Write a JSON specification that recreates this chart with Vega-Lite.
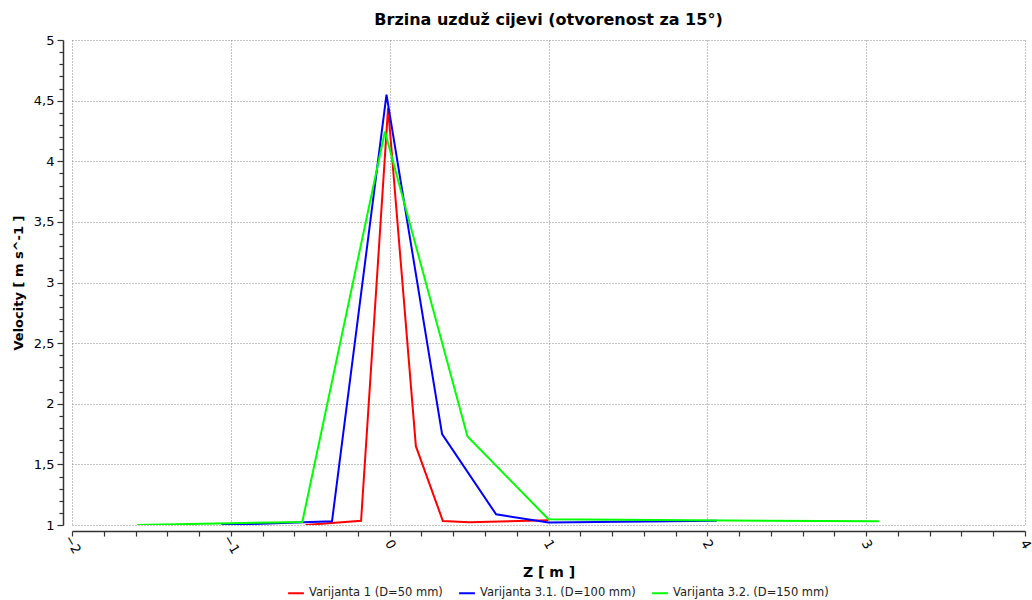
{
  "$schema": "https://vega.github.io/schema/vega-lite/v6.json",
  "width": 953,
  "height": 485,
  "autosize": {"type": "none"},
  "padding": {"left": 72, "top": 40, "right": 7, "bottom": 75},
  "background": "white",
  "title": {
    "text": "Brzina uzduž cijevi (otvorenost za 15°)",
    "font": "DejaVu Sans",
    "fontSize": 16,
    "fontWeight": "bold",
    "color": "black",
    "anchor": "middle",
    "offset": 6
  },
  "data": {
    "values": [
      {"s": "Varijanta 1 (D=50 mm)", "z": -0.53, "v": 1.0},
      {"s": "Varijanta 1 (D=50 mm)", "z": -0.18, "v": 1.035},
      {"s": "Varijanta 1 (D=50 mm)", "z": -0.01, "v": 4.44},
      {"s": "Varijanta 1 (D=50 mm)", "z": 0.165, "v": 1.65},
      {"s": "Varijanta 1 (D=50 mm)", "z": 0.335, "v": 1.033},
      {"s": "Varijanta 1 (D=50 mm)", "z": 0.5, "v": 1.022},
      {"s": "Varijanta 1 (D=50 mm)", "z": 1.0, "v": 1.04},
      {"s": "Varijanta 3.1. (D=100 mm)", "z": -1.06, "v": 1.0},
      {"s": "Varijanta 3.1. (D=100 mm)", "z": -0.363, "v": 1.03},
      {"s": "Varijanta 3.1. (D=100 mm)", "z": -0.02, "v": 4.55},
      {"s": "Varijanta 3.1. (D=100 mm)", "z": 0.33, "v": 1.75},
      {"s": "Varijanta 3.1. (D=100 mm)", "z": 0.67, "v": 1.088},
      {"s": "Varijanta 3.1. (D=100 mm)", "z": 1.0, "v": 1.02},
      {"s": "Varijanta 3.1. (D=100 mm)", "z": 2.06, "v": 1.035},
      {"s": "Varijanta 3.2. (D=150 mm)", "z": -1.59, "v": 1.0},
      {"s": "Varijanta 3.2. (D=150 mm)", "z": -0.55, "v": 1.025},
      {"s": "Varijanta 3.2. (D=150 mm)", "z": -0.03, "v": 4.245},
      {"s": "Varijanta 3.2. (D=150 mm)", "z": 0.49, "v": 1.73},
      {"s": "Varijanta 3.2. (D=150 mm)", "z": 1.0, "v": 1.047},
      {"s": "Varijanta 3.2. (D=150 mm)", "z": 3.08, "v": 1.03}
    ]
  },
  "mark": {"type": "line", "strokeWidth": 2, "clip": true},
  "encoding": {
    "x": {
      "field": "z",
      "type": "quantitative",
      "scale": {"domain": [-2, 4], "nice": false, "zero": false},
      "axis": {
        "title": "Z [ m ]",
        "titleFont": "DejaVu Sans",
        "titleFontSize": 14,
        "titleFontWeight": "bold",
        "titleColor": "black",
        "titlePadding": 10,
        "offset": 6,
        "values": [-2, -1.8, -1.6, -1.4, -1.2, -1, -0.8, -0.6, -0.4, -0.2, 0, 0.2, 0.4, 0.6, 0.8, 1, 1.2, 1.4, 1.6, 1.8, 2, 2.2, 2.4, 2.6, 2.8, 3, 3.2, 3.4, 3.6, 3.8, 4],
        "labelExpr": "abs(datum.value - round(datum.value)) < 0.001 ? format(datum.value, 'd') : ''",
        "labelOverlap": false,
        "labelAngle": 60,
        "labelAlign": "center",
        "labelBaseline": "middle",
        "labelPadding": 8,
        "labelFont": "DejaVu Sans",
        "labelFontSize": 13,
        "labelColor": "black",
        "domainColor": "#333333",
        "domainWidth": 1.5,
        "tickColor": "#333333",
        "tickSize": 5,
        "tickWidth": 1.2,
        "grid": true,
        "gridColor": "#888888",
        "gridDash": [1, 2],
        "gridOpacity": {"condition": {"test": "abs(datum.value - round(datum.value)) < 0.001", "value": 1}, "value": 0}
      }
    },
    "y": {
      "field": "v",
      "type": "quantitative",
      "scale": {"domain": [1, 5], "nice": false, "zero": false},
      "axis": {
        "title": "Velocity [ m s^-1 ]",
        "titleFont": "DejaVu Sans",
        "titleFontSize": 13,
        "titleFontWeight": "bold",
        "titleColor": "black",
        "titlePadding": 8,
        "offset": 9,
        "values": [1, 1.1, 1.2, 1.3, 1.4, 1.5, 1.6, 1.7, 1.8, 1.9, 2, 2.1, 2.2, 2.3, 2.4, 2.5, 2.6, 2.7, 2.8, 2.9, 3, 3.1, 3.2, 3.3, 3.4, 3.5, 3.6, 3.7, 3.8, 3.9, 4, 4.1, 4.2, 4.3, 4.4, 4.5, 4.6, 4.7, 4.8, 4.9, 5],
        "labelExpr": "abs(datum.value * 2 - round(datum.value * 2)) < 0.001 ? replace(format(datum.value, '~g'), '.', ',') : ''",
        "labelOverlap": false,
        "labelFont": "DejaVu Sans",
        "labelFontSize": 13,
        "labelColor": "black",
        "labelPadding": 3,
        "domainColor": "#333333",
        "domainWidth": 1.5,
        "tickColor": "#333333",
        "tickSize": {"condition": {"test": "abs(datum.value * 2 - round(datum.value * 2)) < 0.001", "value": 6}, "value": 4},
        "tickWidth": 1.2,
        "grid": true,
        "gridColor": "#888888",
        "gridDash": [1, 2],
        "gridOpacity": {"condition": {"test": "abs(datum.value * 2 - round(datum.value * 2)) < 0.001", "value": 1}, "value": 0}
      }
    },
    "color": {
      "field": "s",
      "type": "nominal",
      "scale": {
        "domain": ["Varijanta 1 (D=50 mm)", "Varijanta 3.1. (D=100 mm)", "Varijanta 3.2. (D=150 mm)"],
        "range": ["#ff0000", "#0000ff", "#00ff00"]
      },
      "legend": {
        "title": null,
        "orient": "none",
        "legendX": 215,
        "legendY": 544,
        "direction": "horizontal",
        "symbolType": "stroke",
        "symbolStrokeWidth": 2,
        "symbolSize": 250,
        "labelFont": "DejaVu Sans",
        "labelFontSize": 11.5,
        "labelLimit": 400,
        "labelColor": "#222222",
        "columnPadding": 12,
        "labelOffset": 4
      }
    }
  },
  "config": {"view": {"stroke": null}}
}
